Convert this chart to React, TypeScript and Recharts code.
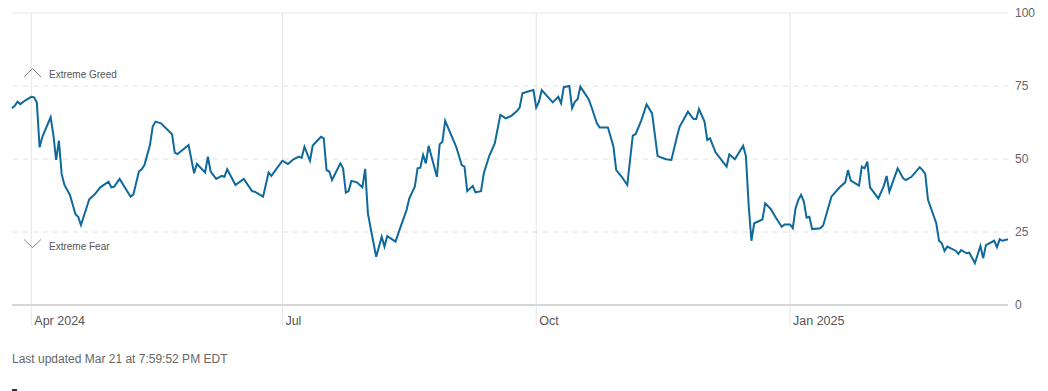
import { LineChart, Line, XAxis, YAxis, ReferenceLine } from 'recharts';

const days = [
  -7, -6, -5, -4, -2, 0, 1, 2, 3, 4, 7, 8, 9, 10, 11, 12, 14, 16, 17, 18,
  21, 23, 25, 28, 29, 30, 32, 36, 37, 39, 40, 41, 43, 44, 45, 47, 51, 52, 53, 57,
  59, 60, 63, 64, 65, 67, 69, 70, 71, 74, 77, 80, 81, 84, 86, 87, 91, 93, 95, 97,
  98, 99, 101, 102, 105, 106, 107, 108, 109, 112, 113, 114, 115, 116, 118, 120, 121, 122, 123, 125,
  127, 128, 129, 132, 134, 136, 137, 139, 140, 141, 142, 143, 144, 147, 148, 149, 150, 154, 156, 157,
  158, 160, 161, 163, 164, 166, 168, 170, 172, 174, 176, 177, 178, 180, 182, 183, 184, 185, 189, 191,
  192, 193, 195, 196, 197, 198, 199, 202, 203, 205, 206, 209, 211, 212, 214, 216, 218, 219, 221, 223,
  225, 227, 230, 232, 234, 235, 237, 238, 240, 241, 242, 244, 245, 246, 248, 252, 253, 255, 258, 259,
  260, 261, 262, 265, 266, 268, 270, 272, 273, 275, 276, 277, 278, 279, 280, 281, 282, 283, 286, 287,
  290, 293, 295, 296, 297, 300, 301, 302, 303, 304, 307, 309, 310, 311, 314, 316, 317, 319, 322, 323,
  324, 325, 328, 329, 330, 331, 332, 335, 336, 337, 339, 340, 342, 344, 345, 346, 349, 350, 351, 352,
  354,
];

const values = [
  67.4, 68.2, 69.6, 68.8, 70.2, 71.3, 71.1, 69.3, 54.0, 57.6, 64.3, 58.2, 49.7, 56.3, 44.9, 41.1, 37.7, 31.1, 30.2, 27.4,
  36.2, 37.9, 40.3, 42.2, 40.3, 40.5, 43.2, 37.1, 37.9, 45.7, 46.5, 47.9, 54.8, 61.1, 62.8, 62.2, 58.5, 52.2, 51.7, 54.8,
  45.1, 48.3, 45.4, 50.8, 45.7, 43.2, 44.2, 43.9, 46.5, 41.1, 43.2, 39.0, 38.8, 37.1, 45.4, 44.2, 49.4, 48.3, 49.9, 50.8,
  50.4, 54.2, 49.4, 54.6, 57.6, 57.1, 46.2, 45.7, 42.8, 48.5, 46.8, 38.5, 39.0, 42.5, 42.0, 40.3, 46.6, 31.4, 26.3, 16.5,
  23.4, 20.0, 23.6, 21.7, 27.2, 32.5, 36.5, 40.5, 46.8, 47.0, 51.4, 48.5, 54.5, 43.9, 55.0, 55.9, 63.1, 54.2, 47.9, 47.4,
  39.0, 40.8, 38.6, 39.0, 45.1, 51.1, 55.4, 65.1, 63.9, 64.8, 66.4, 67.6, 72.5, 73.1, 73.6, 67.6, 69.6, 73.6, 69.4, 71.3,
  69.1, 74.6, 75.0, 67.4, 69.6, 70.5, 74.8, 70.5, 67.9, 62.2, 60.8, 60.8, 54.2, 46.2, 43.9, 41.1, 58.0, 58.5, 63.0, 68.7,
  65.6, 51.0, 49.9, 49.7, 57.6, 61.1, 64.5, 66.2, 63.7, 63.7, 67.1, 62.8, 56.5, 57.1, 52.3, 47.4, 51.6, 49.9, 54.5, 51.0,
  34.2, 22.0, 28.0, 29.3, 34.8, 32.9, 29.7, 26.8, 27.6, 27.6, 26.3, 33.1, 36.0, 37.7, 35.4, 29.9, 30.2, 26.0, 26.3, 27.2,
  37.1, 40.3, 42.0, 46.2, 42.6, 40.9, 47.4, 46.8, 49.1, 40.3, 36.5, 40.8, 44.2, 38.8, 46.8, 43.4, 42.8, 43.9, 47.2, 46.2,
  44.9, 36.0, 28.0, 22.0, 21.1, 18.5, 20.0, 18.6, 17.5, 18.8, 17.7, 17.9, 14.3, 20.2, 16.0, 20.5, 22.0, 19.8, 22.5, 22.0,
  22.5,
];

const tickDays = [0, 91, 183, 275];
const tickLabels = ['Apr 2024', 'Jul', 'Oct', 'Jan 2025'];
const yTicks = [0, 25, 50, 75, 100];

const data = days.map((day, i) => ({ day, value: values[i] }));

const FONT = '"Liberation Sans", Arial, Helvetica, sans-serif';

function MonthTick({ x, y, payload }: any) {
  const i = tickDays.indexOf(payload.value);
  return (
    <g>
      <line x1={x} x2={x} y1={y} y2={y + 21} stroke="#e6e6e6" />
      <text x={x + 3} y={y + 20} fontSize={12.5} fill="#555" fontFamily={FONT}>
        {tickLabels[i]}
      </text>
    </g>
  );
}

function ValueTick({ x, y, payload }: any) {
  return (
    <text x={x + 7} y={y + 4} fontSize={12} fill="#666" fontFamily={FONT}>
      {payload.value}
    </text>
  );
}

function GreedLabel({ viewBox }: any) {
  const { x, y } = viewBox;
  return (
    <g>
      <polyline points={`${x + 12},${y - 9} ${x + 20.5},${y - 17.5} ${x + 29},${y - 9}`} fill="none" stroke="#888" strokeWidth={1} />
      <text x={x + 37} y={y - 8} fontSize={10} fill="#555" fontFamily={FONT}>Extreme Greed</text>
    </g>
  );
}

function FearLabel({ viewBox }: any) {
  const { x, y } = viewBox;
  return (
    <g>
      <polyline points={`${x + 12},${y + 7.5} ${x + 20.5},${y + 15.5} ${x + 29},${y + 7.5}`} fill="none" stroke="#888" strokeWidth={1} />
      <text x={x + 37} y={y + 17.5} fontSize={10} fill="#555" fontFamily={FONT}>Extreme Fear</text>
    </g>
  );
}

export default function App() {
  return (
    <div style={{ position: 'relative', width: 1040, height: 388, marginTop: -5, fontFamily: FONT }}>
      <LineChart width={1040} height={340} data={data} margin={{ top: 10, right: 0, bottom: 0, left: 4 }}>
        <XAxis
          dataKey="day"
          type="number"
          domain={[-7, 354]}
          ticks={tickDays}
          axisLine={false}
          tickLine={false}
          tickSize={0}
          tickMargin={0}
          height={38}
          tick={<MonthTick />}
          interval={0}
        />
        <YAxis
          orientation="right"
          domain={[0, 100]}
          ticks={yTicks}
          axisLine={false}
          tickLine={false}
          tickSize={0}
          tickMargin={0}
          width={40}
          tick={<ValueTick />}
          interval={0}
        />
        {tickDays.map((d) => (
          <ReferenceLine key={d} x={d} stroke="#e6e6e6" />
        ))}
        <ReferenceLine y={100} stroke="#e8e8e8" />
        <ReferenceLine y={75} stroke="#e0e0e0" strokeDasharray="5 5" label={<GreedLabel />} />
        <ReferenceLine y={50} stroke="#e0e0e0" strokeDasharray="5 5" />
        <ReferenceLine y={25} stroke="#e0e0e0" strokeDasharray="5 5" label={<FearLabel />} />
        <ReferenceLine y={0} stroke="#c8c8c8" strokeWidth={1.5} />
        <Line
          type="linear"
          dataKey="value"
          stroke="#0f6a9b"
          strokeWidth={2}
          dot={false}
          isAnimationActive={false}
        />
      </LineChart>
      <div style={{ position: 'absolute', left: 4, top: 349, fontSize: 12, color: '#666' }}>
        Last updated Mar 21 at 7:59:52 PM EDT
      </div>
      <div style={{ position: 'absolute', left: 4, top: 386, width: 5, height: 2, background: '#333' }} />
    </div>
  );
}
